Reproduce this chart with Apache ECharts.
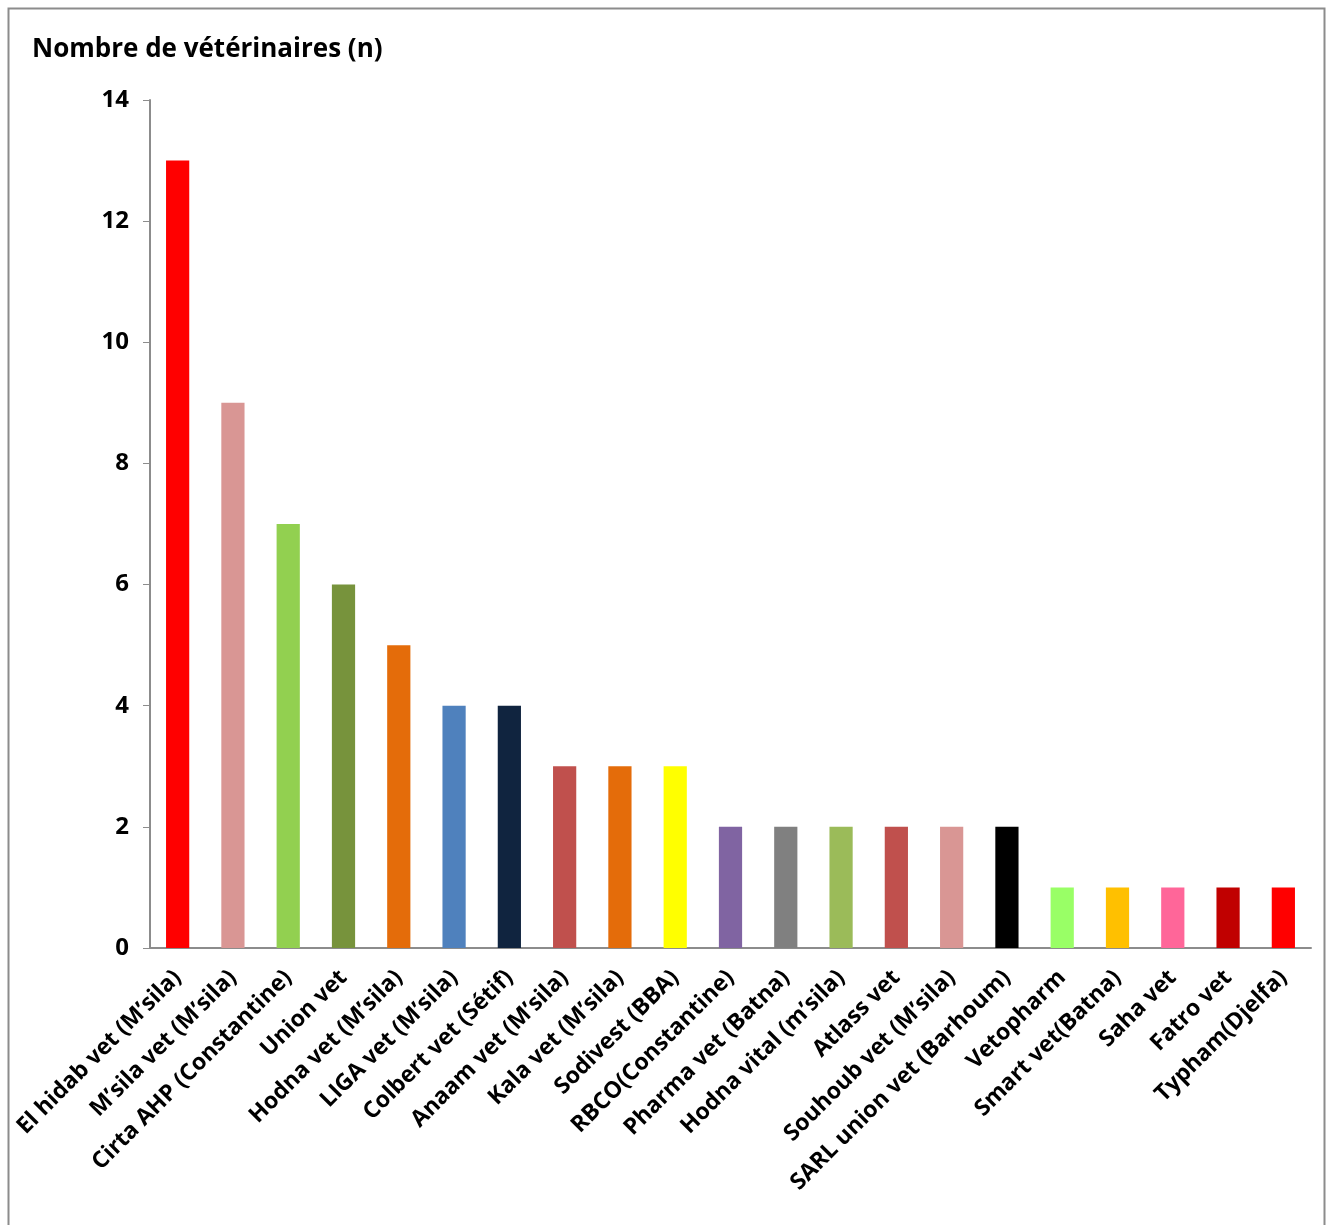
<!DOCTYPE html>
<html><head><meta charset="utf-8">
<script src="https://cdn.jsdelivr.net/npm/echarts@6/dist/echarts.min.js"></script>
<style>html,body{margin:0;padding:0;background:#fff}#c{width:1333px;height:1225px}</style>
</head><body><div id="c"></div>
<script>
const categories = ["El hidab vet (M’sila)","M’sila vet (M’sila)","Cirta AHP (Constantine)","Union vet","Hodna vet (M’sila)","LIGA vet (M’sila)","Colbert vet (Sétif)","Anaam vet (M’sila)","Kala vet (M’sila)","Sodivest (BBA)","RBCO(Constantine)","Pharma vet (Batna)","Hodna vital (m’sila)","Atlass vet","Souhoub vet (M’sila)","SARL union vet (Barhoum)","Vetopharm","Smart vet(Batna)","Saha vet","Fatro vet","Typham(Djelfa)"];
const values = [13,9,7,6,5,4,4,3,3,3,2,2,2,2,2,2,1,1,1,1,1];
const colors = ["#FF0000","#D99694","#92D050","#77933C","#E46C0A","#4F81BD","#10243F","#C0504D","#E46C0A","#FFFF00","#8064A2","#808080","#9BBB59","#C0504D","#D99694","#000000","#99FF66","#FFC000","#FF6699","#C00000","#FF0000"];
const yTitle = "Nombre de vétérinaires (n)";
const FONT = "Open Sans";
const chart = echarts.init(document.getElementById('c'));
chart.setOption({
  animation: false,
  backgroundColor: '#fff',
  textStyle: {fontFamily: FONT},
  graphic: [{type:'rect', shape:{x:8.5,y:8.5,width:1316,height:1230}, style:{fill:'none', stroke:'#8c8c8c', lineWidth:2}}],
  title: {text: yTitle, left: 27, top: 32, textStyle:{fontFamily:FONT, fontWeight:'bold', fontSize:26, color:'#000'}},
  grid: {left: 150, right: 22, top: 100, bottom: 277},
  xAxis: {type:'category', data: categories,
    axisLine:{lineStyle:{color:'#8c8c8c', width:2}},
    axisTick:{show:false},
    axisLabel:{rotate:45, interval:0, fontFamily:FONT, fontWeight:'bold', fontSize:23, color:'#000', margin:26}
  },
  yAxis: {type:'value', min:0, max:14, interval:2,
    axisLine:{show:true, lineStyle:{color:'#8c8c8c', width:2}},
    axisTick:{show:true, length:7, lineStyle:{color:'#8c8c8c', width:1}},
    splitLine:{show:false},
    axisLabel:{fontFamily:FONT, fontWeight:'bold', fontSize:24, color:'#000', margin:21}
  },
  series: [{type:'bar', barWidth:'42%', data: values.map((v,i)=>({value:v, itemStyle:{color:colors[i]}}))}]
});
</script></body></html>
